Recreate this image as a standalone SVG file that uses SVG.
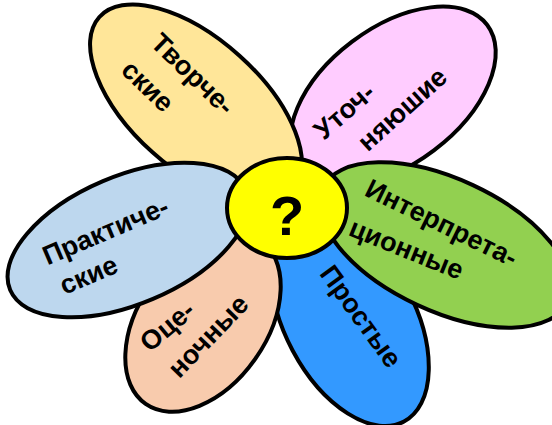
<svg xmlns="http://www.w3.org/2000/svg" width="552" height="425" viewBox="0 0 552 425">
<style>
.petal{stroke:#000;stroke-width:4}
.t{font-family:"Liberation Sans",Arial,sans-serif;font-weight:bold;font-size:27px;fill:#000;text-anchor:middle}
</style>
<rect width="552" height="425" fill="#fff"/>
<g id="petal-utoch">
<ellipse class="petal" cx="393" cy="96" rx="118" ry="68" fill="#FFCCFF" transform="rotate(-37 393 96)"/>
</g>
<g id="petal-tvorch">
<ellipse class="petal" cx="196" cy="104" rx="130" ry="65" fill="#FFE699" transform="rotate(42 196 104)"/>
</g>
<g id="petal-prost">
<ellipse class="petal" cx="350" cy="320" rx="115" ry="65" fill="#3399FF" transform="rotate(62 350 320)"/>
</g>
<g id="petal-interp">
<ellipse class="petal" cx="445" cy="245" rx="135" ry="66" fill="#92D050" transform="rotate(25 445 245)"/>
</g>
<g id="petal-ocen">
<ellipse class="petal" cx="203" cy="322" rx="100" ry="64" fill="#F8CBAD" transform="rotate(-55 203 322)"/>
</g>
<g id="petal-prakt">
<ellipse class="petal" cx="128" cy="240" rx="128" ry="64" fill="#BDD7EE" transform="rotate(-23 128 240)"/>
</g>
<g id="center">
<ellipse class="petal" cx="287" cy="208" rx="60" ry="50" fill="#FFFF00"/>
<text class="t" x="287" y="235" style="font-size:56px">?</text>
</g>
<g id="labels">
<text class="t" transform="translate(192 75) rotate(44)" y="8">Творче-</text>
<text class="t" transform="translate(147 87) rotate(44)" y="8">ские</text>
<text class="t" transform="translate(345 112) rotate(-41)" y="8">Уточ-</text>
<text class="t" transform="translate(403 110) rotate(-42)" y="8">няюшие</text>
<text class="t" transform="translate(441 224) rotate(26)" y="8">Интерпрета-</text>
<text class="t" transform="translate(406 250) rotate(22)" y="8">ционные</text>
<text class="t" transform="translate(360 317) rotate(54)" y="8">Простые</text>
<text class="t" transform="translate(168 327) rotate(-40)" y="8">Оце-</text>
<text class="t" transform="translate(209 337) rotate(-46)" y="8">ночные</text>
<text class="t" transform="translate(106 232) rotate(-23)" y="8">Практиче-</text>
<text class="t" transform="translate(89 276) rotate(-23)" y="8">ские</text>
</g>
</svg>
